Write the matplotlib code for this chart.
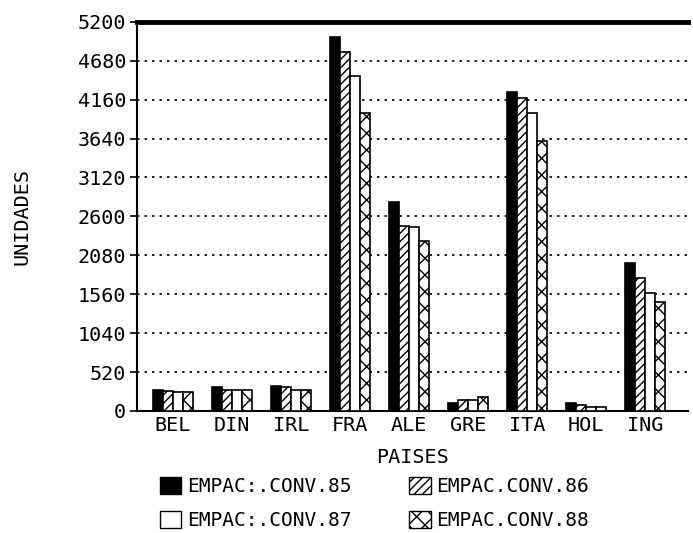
import numpy as np
from matplotlib import pyplot as plt
from matplotlib.patches import Patch

# data
paises = ['BEL', 'DIN', 'IRL', 'FRA', 'ALE', 'GRE', 'ITA', 'HOL', 'ING']
conv85 = [280, 320, 335, 5000, 2790, 105, 4265, 100, 1980]
conv86 = [270, 280, 320, 4800, 2470, 145, 4185, 85, 1780]
conv87 = [250, 280, 280, 4475, 2460, 145, 3985, 55, 1580]
conv88 = [250, 280, 280, 3980, 2265, 185, 3610, 55, 1455]
yticks = list(range(0, 5201, 520))

series = [
    ('EMPAC:.CONV.85', conv85, 'black', ''),
    ('EMPAC.CONV.86', conv86, 'white', '////'),
    ('EMPAC:.CONV.87', conv87, 'white', ''),
    ('EMPAC.CONV.88', conv88, 'white', 'xx'),
]

plt.rcParams['font.family'] = 'DejaVu Sans Mono'
plt.rcParams['hatch.linewidth'] = 1.0

fig = plt.figure(figsize=(6.93, 5.33), dpi=100)
ax = fig.add_axes([0.198, 0.229, 0.795, 0.730])

x = np.arange(len(paises))
w = 0.17
for i, (name, vals, color, hatch) in enumerate(series):
    ax.bar(x + (i - 1.5) * w, vals, width=w, color=color, edgecolor='black',
           hatch=hatch, linewidth=1.2, zorder=3)

ax.set_xlim(-0.6, 8.73)
ax.set_ylim(0, 5200)
ax.set_yticks(yticks)
ax.set_yticklabels([str(t) for t in yticks], fontsize=14.5)
ax.set_xticks(x)
ax.set_xticklabels(paises, fontsize=14.5)
ax.tick_params(axis='x', length=0, pad=4)
ax.tick_params(axis='y', length=5, width=1.2, direction='out', pad=3)

ax.grid(axis='y', linestyle=(0, (1.5, 3)), color='black', linewidth=1.2, zorder=0)
ax.spines['right'].set_visible(False)
ax.spines['top'].set_linewidth(3.5)
ax.spines['left'].set_linewidth(1.5)
ax.spines['bottom'].set_linewidth(1.5)

ax.set_xlabel('PAISES', fontsize=14.5, labelpad=9)
ax.set_ylabel('UNIDADES', fontsize=14.5, labelpad=33)

handles = [Patch(facecolor=c, edgecolor='black', hatch=h, label=n)
           for n, v, c, h in series]
order = [0, 2, 1, 3]
fig.legend([handles[i] for i in order], [series[i][0] for i in order],
           loc='upper left', bbox_to_anchor=(0.231, 0.105), ncol=2,
           frameon=False, fontsize=14, handlelength=1.1, handleheight=1.0,
           columnspacing=2.95, labelspacing=0.75, handletextpad=0.3,
           borderpad=0, borderaxespad=0)

fig.savefig('out.png', dpi=100)
